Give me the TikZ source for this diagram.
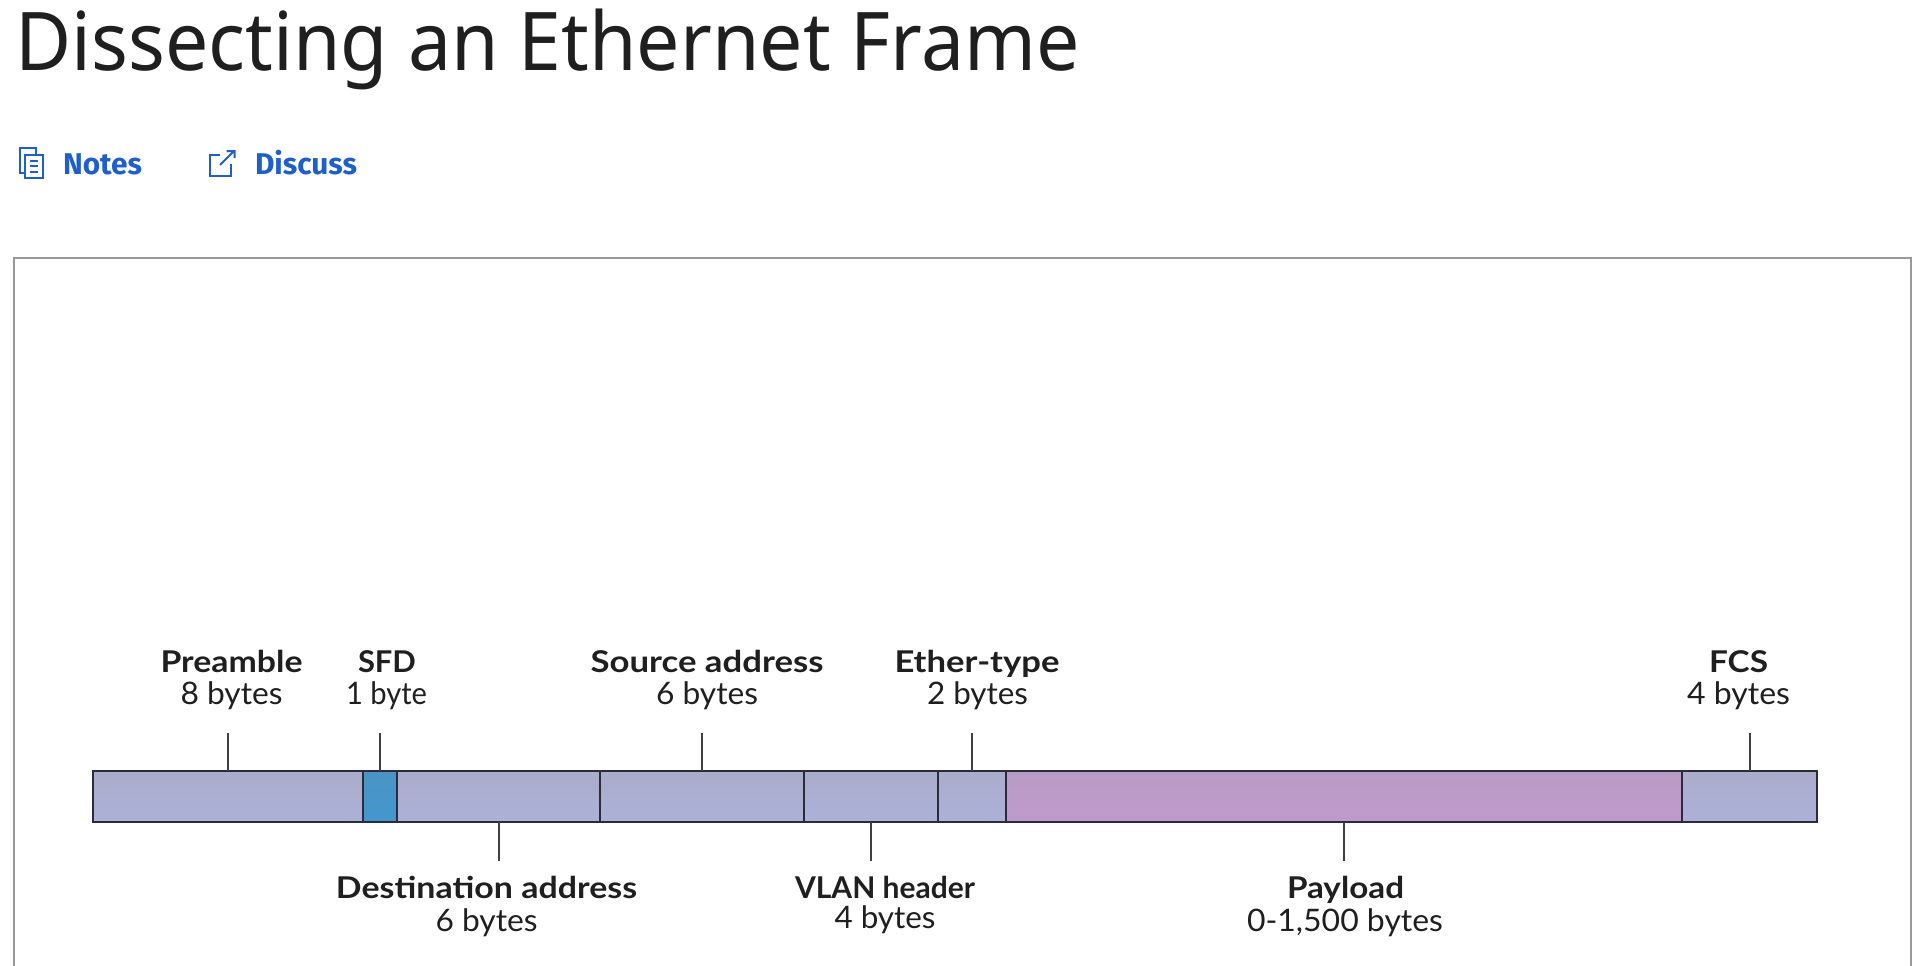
\documentclass[tikz,border=0pt]{standalone}
\usepackage{graphicx}
\usepackage{fontspec}
\setmainfont{Lato}
\newfontfamily\titlefont{Noto Sans}
\newfontfamily\linkfont{Fira Sans}
\definecolor{framegray}{HTML}{999999}
\definecolor{linkblue}{HTML}{1F5FCC}
\definecolor{inkc}{HTML}{1F1F1F}
\definecolor{edgec}{HTML}{2B2B3A}
\definecolor{lavT}{HTML}{A9ACCA}
\definecolor{lavB}{HTML}{ADB1D9}
\definecolor{sfdT}{HTML}{4A94C4}
\definecolor{sfdB}{HTML}{4397CF}
\definecolor{payT}{HTML}{B99CC4}
\definecolor{payB}{HTML}{C099CD}
\tikzset{
  x=1pt,y=-1pt,
  seg/.style={draw=edgec,line width=2pt,anchor=north west,inner sep=0pt,outer sep=0pt,minimum height=51pt},
  lav/.style={seg,top color=lavT,bottom color=lavB},
  sfdseg/.style={seg,top color=sfdT,bottom color=sfdB},
  payseg/.style={seg,top color=payT,bottom color=payB},
  tick/.style={draw=inkc!85,line width=2pt},
  txt/.style={anchor=base,inner sep=0pt,outer sep=0pt,text=inkc},
  icon/.style={draw=linkblue,line width=2pt}
}
% name, centre x, baseline y, width, font, text
\newcommand{\lbl}[6]{\node[txt] (#1) at (#2,#3) {\resizebox{#4pt}{\height}{#5#6}};}
\begin{document}
\begin{tikzpicture}
\useasboundingbox (0,0) rectangle (1931,966);
% title and links
\lbl{title}{547.5}{71}{1064}{\titlefont\fontsize{81pt}{90pt}\selectfont}{Dissecting an Ethernet Frame}
\lbl{notes}{102.5}{174}{79}{\linkfont\bfseries\fontsize{30pt}{34pt}\selectfont\color{linkblue}}{Notes}
\lbl{discuss}{306}{174}{102}{\linkfont\bfseries\fontsize{30pt}{34pt}\selectfont\color{linkblue}}{Discuss}
% notes icon
\draw[icon] (36,154) -- (36,148) -- (19.5,148) -- (19.5,173) -- (25,173);
\draw[icon] (25,154.5) rectangle (42.5,177.5);
\draw[icon] (30,160.5) -- (38,160.5) (30,166) -- (38,166) (30,171.5) -- (38,171.5);
% discuss icon
\draw[icon] (220,154.5) -- (210,154.5) -- (210,175.5) -- (230.5,175.5) -- (230.5,164);
\draw[icon] (220,165) -- (234,151) (226.5,151) -- (234.5,151) -- (234.5,158);
% frame
\draw[draw=framegray,line width=2pt] (14,966) -- (14,258) -- (1911,258) -- (1911,966);
% bar
\node[lav,minimum width=270pt] (pre) at (93,771) {};
\node[sfdseg,minimum width=34pt] (sfd) at (363,771) {};
\node[lav,minimum width=203pt] (dst) at (397,771) {};
\node[lav,minimum width=204pt] (src) at (600,771) {};
\node[lav,minimum width=134pt] (vlan) at (804,771) {};
\node[lav,minimum width=68pt] (eth) at (938,771) {};
\node[payseg,minimum width=676pt] (pay) at (1006,771) {};
\node[lav,minimum width=135pt] (fcs) at (1682,771) {};
% tick ends
\coordinate (preT) at (pre.north |- 0,733);
\coordinate (sfdT) at (sfd.north |- 0,733);
\coordinate (srcT) at (702,733);
\coordinate (ethT) at (eth.north |- 0,733);
\coordinate (fcsT) at (fcs.north |- 0,733);
\coordinate (dstE) at (dst.south |- 0,861);
\coordinate (vlanE) at (vlan.south |- 0,861);
\coordinate (payE) at (pay.south |- 0,861);
\draw[tick] (pre.north) -- (preT);
\draw[tick] (sfd.north) -- (sfdT);
\draw[tick] (src.north) -- (srcT);
\draw[tick] (eth.north) -- (ethT);
\draw[tick] (fcs.north) -- (fcsT);
\draw[tick] (dst.south) -- (dstE);
\draw[tick] (vlan.south) -- (vlanE);
\draw[tick] (pay.south) -- (payE);
% labels
\newcommand{\hd}{\bfseries\fontsize{30pt}{32pt}\selectfont}
\newcommand{\sz}{\fontsize{31pt}{32pt}\selectfont}
\lbl{preA}{231.5}{672}{142}{\hd}{Preamble}
\lbl{preB}{231.5}{704}{102}{\sz}{8 bytes}
\lbl{sfdA}{387}{672}{58}{\hd}{SFD}
\lbl{sfdB}{386.5}{704}{81}{\sz}{1 byte}
\lbl{srcA}{707}{672}{233}{\hd}{Source address}
\lbl{srcB2}{707}{704}{102}{\sz}{6 bytes}
\lbl{ethA}{977}{672}{165}{\hd}{Ether-type}
\lbl{ethB}{977.5}{704}{101}{\sz}{2 bytes}
\lbl{fcsA}{1738.5}{672}{59}{\hd}{FCS}
\lbl{fcsB}{1738.5}{704}{103}{\sz}{4 bytes}
\lbl{dstA}{486.5}{898}{301}{\hd}{Destination address}
\lbl{dstB}{486.5}{931}{102}{\sz}{6 bytes}
\lbl{vlanA}{885}{898}{180}{\hd}{VLAN header}
\lbl{vlanB}{885}{928}{101}{\sz}{4 bytes}
\lbl{payA}{1345.5}{898}{117}{\hd}{Payload}
\lbl{payB}{1345}{931}{196}{\sz}{0-1,500 bytes}
\end{tikzpicture}
\end{document}
